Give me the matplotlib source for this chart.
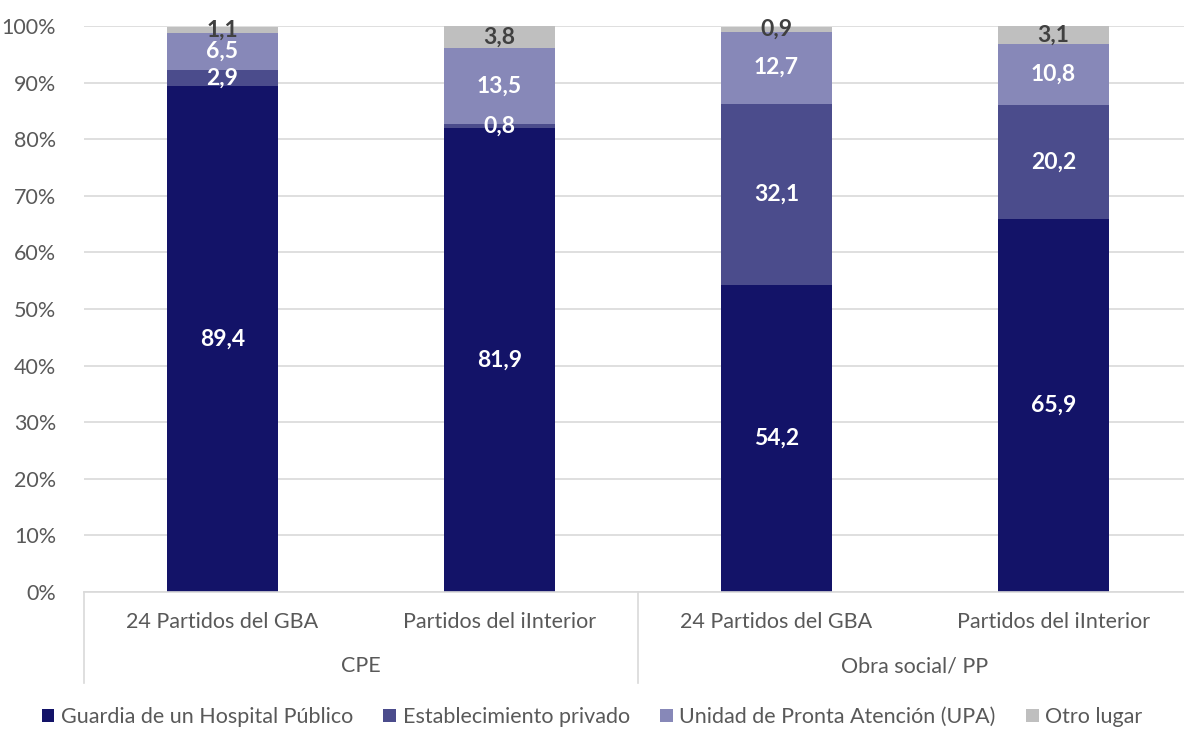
import numpy as np
import matplotlib.pyplot as plt
from matplotlib.patches import Patch
import matplotlib.transforms as mtransforms

plt.rcParams['font.family'] = ['Lato', 'DejaVu Sans']

grupos = ["CPE", "Obra social/ PP"]
categorias = ["24 Partidos del GBA", "Partidos del iInterior",
              "24 Partidos del GBA", "Partidos del iInterior"]
series = ["Guardia de un Hospital Público", "Establecimiento privado",
          "Unidad de Pronta Atención (UPA)", "Otro lugar"]
hospital = [89.4, 81.9, 54.2, 65.9]
privado = [2.9, 0.8, 32.1, 20.2]
upa = [6.5, 13.5, 12.7, 10.8]
otro = [1.1, 3.8, 0.9, 3.1]

colores = ["#131368", "#4b4c8c", "#8788b8", "#bfbfbf"]
col_txt = ["white", "white", "white", "#404040"]

fig = plt.figure(figsize=(11.84, 7.29), dpi=100)
ax = fig.add_axes([0.0709, 0.1879, 0.929, 0.7764])

x = np.arange(len(categorias))
base = np.zeros(len(categorias))
for vals, c, tc, name in zip([hospital, privado, upa, otro], colores, col_txt, series):
    vals = np.array(vals)
    ax.bar(x, vals, 0.4, bottom=base, color=c, label=name, zorder=2)
    for xi, b, v in zip(x, base, vals):
        ax.text(xi, b + v / 2, f"{v:.1f}".replace(".", ","), ha="center", va="center",
                color=tc, fontsize=16.5, fontweight="bold", zorder=3)
    base += vals

ax.set_ylim(0, 100)
ax.set_xlim(-0.5, 3.471)
ax.set_yticks(np.arange(0, 101, 10))
ax.set_yticklabels([f"{v}%" for v in range(0, 101, 10)])
ax.yaxis.grid(True, color="#d9d9d9", linewidth=1.2, zorder=0)
ax.set_axisbelow(True)
for s in ["top", "right", "left"]:
    ax.spines[s].set_visible(False)
ax.spines["bottom"].set_color("#d9d9d9")
ax.spines["bottom"].set_linewidth(1.2)
ax.tick_params(axis="y", length=0, labelsize=15.5, labelcolor="#595959", pad=20)
ax.set_xticks([])

# etiquetas de dos niveles
trans = mtransforms.blended_transform_factory(ax.transData, ax.transAxes)
h = 566.0
for xi, lab in zip(x, categorias):
    ax.text(xi, -30 / h, lab, transform=trans, ha="center", va="center",
            fontsize=15.5, color="#595959")
for i, g in enumerate(grupos):
    ax.text(2 * i + 0.5, -74 / h, g, transform=trans, ha="center", va="center",
            fontsize=15.5, color="#595959")
for xv in [-0.5, 1.5]:
    ax.plot([xv, xv], [0, -91 / h], transform=trans, color="#d9d9d9",
            linewidth=1.2, clip_on=False)

handles = [Patch(facecolor=c, label=n) for c, n in zip(colores, series)]
fig.legend(handles=handles, loc="center", bbox_to_anchor=(0.5, 1 - 717 / 729), ncol=4,
           frameon=False, fontsize=15.5, handlelength=0.6, handleheight=0.6,
           handletextpad=0.3, columnspacing=1.4, labelcolor="#595959")

fig.savefig("out.png", dpi=100)
